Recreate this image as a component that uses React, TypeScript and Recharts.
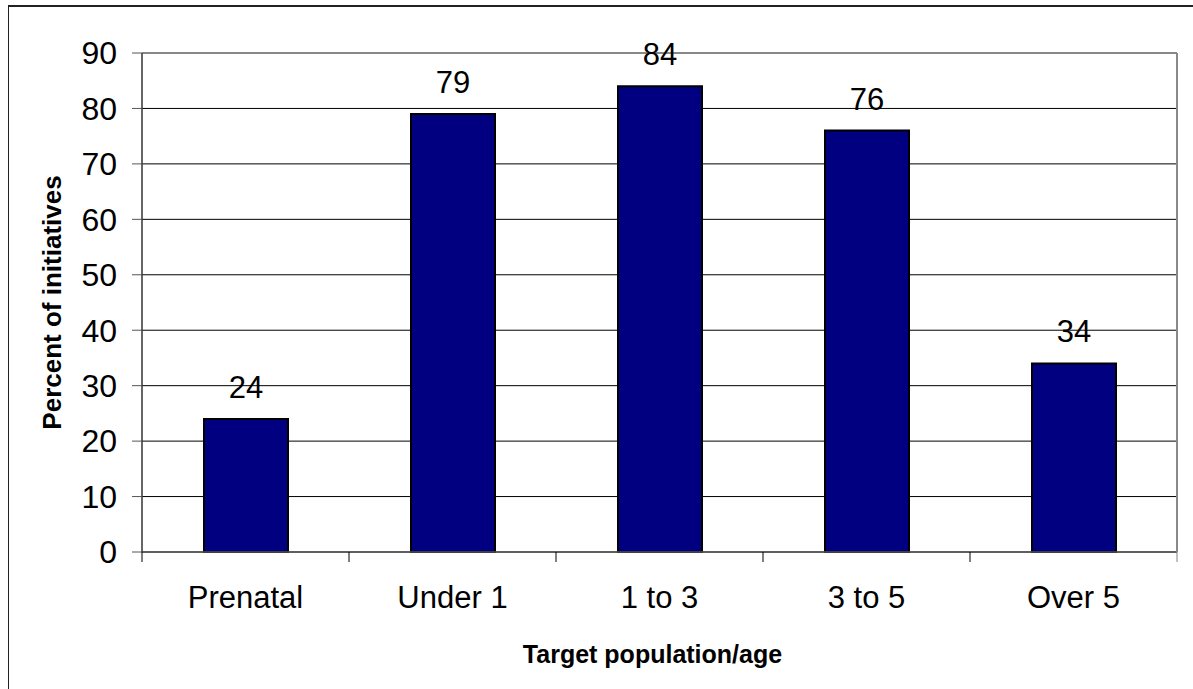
import React from "react";
import {
  BarChart,
  Bar,
  XAxis,
  YAxis,
  CartesianGrid,
  ReferenceLine,
  LabelList,
  Label,
} from "recharts";

const categories = ["Prenatal", "Under 1", "1 to 3", "3 to 5", "Over 5"];
const percents = [24, 79, 84, 76, 34];
const yTicks = [0, 10, 20, 30, 40, 50, 60, 70, 80, 90];

const data = categories.map((name, i) => ({ name, value: percents[i] }));

const W = 1193;
const H = 689;
const FONT = '"Liberation Sans", Arial, sans-serif';
// plot spans x 142..1177, so each category band is 1035 / 5 wide
const BAND = 1035 / categories.length;

function CategoryTick(props: any) {
  const { x, y, payload, index } = props;
  const last = index === categories.length - 1;
  return (
    <g>
      <line x1={x - BAND / 2} x2={x - BAND / 2} y1={y} y2={y + 10} stroke="#000" />
      {last && <line x1={x + BAND / 2} x2={x + BAND / 2} y1={y} y2={y + 10} stroke="#808080" />}
      <text x={x} y={y + 56} textAnchor="middle" fontSize={31} fontFamily={FONT} fill="#000">
        {payload.value}
      </text>
    </g>
  );
}

export default function App() {
  return (
    <div style={{ position: "absolute", left: 0, top: 0, width: W, height: H, overflow: "hidden", background: "#fff" }}>
      <div
        style={{
          position: "absolute",
          left: 8,
          top: 5,
          width: W,
          height: H,
          borderTop: "2px solid #222",
          borderLeft: "1px solid #222",
        }}
      />
      <div style={{ position: "absolute", left: 0, top: 0 }}>
        <BarChart
          width={W}
          height={H}
          data={data}
          margin={{ top: 53, right: 0, left: 0, bottom: 0 }}
          style={{ fontFamily: FONT }}
        >
          <CartesianGrid horizontal vertical={false} stroke="#000" strokeWidth={1} />
          <XAxis
            dataKey="name"
            height={137}
            tickLine={false}
            tickSize={0}
            tickMargin={0}
            axisLine={{ stroke: "#555", strokeWidth: 1.5 }}
            tick={<CategoryTick />}
            interval={0}
          >
            <Label
              value="Target population/age"
              position="center"
              dx={-7}
              dy={34}
              fontSize={25}
              fontWeight="bold"
              fill="#000"
              fontFamily={FONT}
            />
          </XAxis>
          <YAxis
            width={142}
            domain={[0, 90]}
            ticks={yTicks}
            interval={0}
            tickSize={10}
            tickMargin={15}
            tick={{ fontSize: 32, fill: "#000", fontFamily: FONT }}
            tickLine={{ stroke: "#555" }}
            axisLine={{ stroke: "#333", strokeWidth: 1.5 }}
          >
            <Label
              value="Percent of initiatives"
              position="center"
              angle={-90}
              dx={-19}
              dy={0}
              fontSize={26}
              fontWeight="bold"
              fill="#000"
              fontFamily={FONT}
            />
          </YAxis>
          <YAxis
            yAxisId="frame"
            orientation="right"
            width={16}
            domain={[0, 90]}
            tick={false}
            tickLine={false}
            axisLine={{ stroke: "#888", strokeWidth: 2 }}
          />
          <ReferenceLine y={90} stroke="#888" strokeWidth={2} />
          <Bar dataKey="value" fill="#000080" stroke="#000" strokeWidth={2} barSize={84} isAnimationActive={false}>
            <LabelList dataKey="value" position="top" offset={21} fontSize={31} fill="#000" fontFamily={FONT} />
          </Bar>
        </BarChart>
      </div>
    </div>
  );
}
